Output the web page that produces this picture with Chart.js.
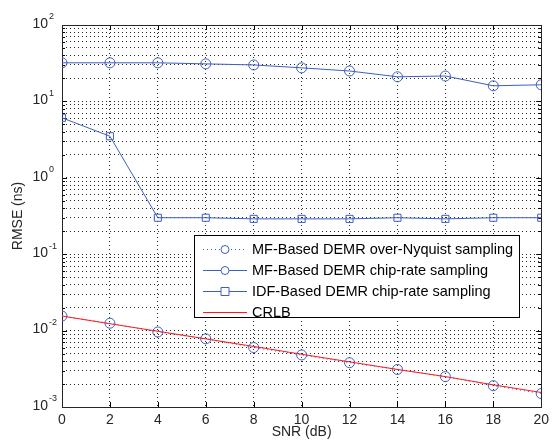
<!DOCTYPE html>
<html>
<head>
<meta charset="utf-8">
<script src="https://cdn.jsdelivr.net/npm/chart.js@4/dist/chart.umd.min.js"></script>
<style>
  html, body { margin: 0; padding: 0; background: #fff; }
  #wrap { width: 554px; height: 445px; position: relative; }
</style>
</head>
<body>
<div id="wrap"><canvas id="rmseChart"></canvas></div>
<script>
// Données
const snr = [0, 2, 4, 6, 8, 10, 12, 14, 16, 18, 20];
const mfOverNyquist = [0.0155, 0.0125, 0.0096, 0.0078, 0.0060, 0.0048, 0.0038, 0.0031, 0.0025, 0.0019, 0.0015];
const mfChipRate = [32, 32, 32, 31, 30, 27.5, 25, 21, 21.5, 16, 16.5];
const idfChipRate = [6.1, 3.5, 0.30, 0.30, 0.29, 0.29, 0.29, 0.30, 0.29, 0.30, 0.30];
const crlb = [0.0155, 0.0123, 0.0098, 0.0078, 0.0062, 0.0049, 0.0039, 0.0031, 0.0025, 0.00195, 0.00155];
const yExponents = [-3, -2, -1, 0, 1, 2];
const seriesNames = [
    'MF-Based DEMR over-Nyquist sampling',
    'MF-Based DEMR chip-rate sampling',
    'IDF-Based DEMR chip-rate sampling',
    'CRLB'
];

const blue = '#3f5fbf';
const red = '#ff1a1a';
const font = 'Liberation Sans, Arial, sans-serif';

const pts = arr => snr.map((x, i) => ({ x: x, y: arr[i] }));

// ticks 1..9 par décade pour la grille mineure
function logTicks() {
    const t = [];
    for (let e = yExponents[0]; e < yExponents[yExponents.length - 1]; e++) {
        for (let s = 1; s < 10; s++) t.push({ value: s * Math.pow(10, e) });
    }
    t.push({ value: Math.pow(10, yExponents[yExponents.length - 1]) });
    return t;
}

const matlabAxes = {
    id: 'matlabAxes',
    beforeDatasetsDraw(chart) {
        const { ctx, chartArea: a, scales: { x, y } } = chart;
        ctx.save();
        ctx.strokeStyle = '#000';
        ctx.lineWidth = 1;
        ctx.beginPath();
        // ticks vers l'intérieur
        y.ticks.forEach(t => {
            const py = Math.round(y.getPixelForValue(t.value)) + 0.5;
            const major = Math.abs(Math.log10(t.value) - Math.round(Math.log10(t.value))) < 1e-9;
            const len = major ? 5 : 3;
            ctx.moveTo(a.left, py); ctx.lineTo(a.left + len, py);
            ctx.moveTo(a.right, py); ctx.lineTo(a.right - len, py);
        });
        x.ticks.forEach(t => {
            const px = Math.round(x.getPixelForValue(t.value)) + 0.5;
            ctx.moveTo(px, a.bottom); ctx.lineTo(px, a.bottom - 5);
            ctx.moveTo(px, a.top); ctx.lineTo(px, a.top + 5);
        });
        ctx.stroke();
        ctx.strokeStyle = '#262626';
        ctx.strokeRect(Math.round(a.left) + 0.5, Math.round(a.top) + 0.5,
            Math.round(a.right - a.left), Math.round(a.bottom - a.top));
        // étiquettes 10^n
        ctx.fillStyle = '#262626';
        ctx.textBaseline = 'middle';
        yExponents.forEach(e => {
            const py = y.getPixelForValue(Math.pow(10, e));
            ctx.font = '14px ' + font;
            ctx.textAlign = 'right';
            ctx.fillText('10', 48, py - 1);
            ctx.font = '9px ' + font;
            ctx.textAlign = 'left';
            ctx.fillText(String(e), 49, py - 8);
        });
        ctx.restore();
    },
    afterDraw(chart) {
        const { ctx } = chart;
        const box = { left: 194, top: 235, right: 519, bottom: 317 };
        ctx.save();
        ctx.fillStyle = '#fff';
        ctx.fillRect(box.left, box.top, box.right - box.left, box.bottom - box.top);
        ctx.strokeStyle = '#000';
        ctx.lineWidth = 1;
        ctx.strokeRect(box.left + 0.5, box.top + 0.5, box.right - box.left, box.bottom - box.top);
        const rows = [249, 270, 291, 312];
        chart.data.datasets.forEach(ds => {
            const i = seriesNames.indexOf(ds.label);
            const ry = rows[i] + 0.5;
            ctx.strokeStyle = ds.borderColor;
            ctx.lineWidth = 1;
            ctx.setLineDash(ds.borderDash || []);
            ctx.beginPath();
            ctx.moveTo(203, ry); ctx.lineTo(247, ry);
            ctx.stroke();
            ctx.setLineDash([]);
            if (ds.pointRadius > 0) {
                ctx.beginPath();
                if (ds.pointStyle === 'rect') {
                    ctx.rect(225 - 4, ry - 4, 8, 8);
                } else {
                    ctx.arc(225, ry, 4, 0, Math.PI * 2);
                }
                ctx.fillStyle = '#fff';
                ctx.fill();
                ctx.stroke();
            }
            ctx.fillStyle = '#000';
            ctx.font = '14.5px ' + font;
            ctx.textAlign = 'left';
            ctx.textBaseline = 'middle';
            ctx.fillText(ds.label, 252, ry);
        });
        ctx.restore();
    }
};

const ctx = document.getElementById('rmseChart').getContext('2d');
new Chart(ctx, {
    type: 'line',
    data: {
        datasets: [
            {
                label: seriesNames[3],
                data: pts(crlb),
                borderColor: red,
                borderWidth: 1,
                pointRadius: 0,
                order: 0
            },
            {
                label: seriesNames[0],
                data: pts(mfOverNyquist),
                borderColor: blue,
                borderWidth: 1,
                borderDash: [1, 3],
                pointStyle: 'circle',
                pointRadius: 5,
                pointBackgroundColor: 'rgba(0,0,0,0)',
                pointBorderColor: blue,
                order: 1
            },
            {
                label: seriesNames[1],
                data: pts(mfChipRate),
                borderColor: blue,
                borderWidth: 1,
                pointStyle: 'circle',
                pointRadius: 5,
                pointBackgroundColor: 'rgba(0,0,0,0)',
                pointBorderColor: blue,
                order: 1
            },
            {
                label: seriesNames[2],
                data: pts(idfChipRate),
                borderColor: blue,
                borderWidth: 1,
                pointStyle: 'rect',
                pointRadius: 5,
                pointBackgroundColor: 'rgba(0,0,0,0)',
                pointBorderColor: blue,
                order: 1
            }
        ]
    },
    options: {
        responsive: true,
        maintainAspectRatio: false,
        animation: false,
        layout: {
            padding: { top: 25, right: 9, left: 0, bottom: 0 }
        },
        plugins: {
            legend: { display: false },
            tooltip: { enabled: false }
        },
        scales: {
            x: {
                type: 'linear',
                min: 0,
                max: 20,
                afterFit: s => { s.height = 38; },
                ticks: {
                    stepSize: 2,
                    padding: 5,
                    color: '#262626',
                    font: { family: font, size: 14 }
                },
                grid: {
                    color: 'rgba(0,0,0,0.85)',
                    borderDash: [1, 3],
                    drawTicks: false
                },
                border: { display: false, dash: [1, 3] },
                title: {
                    display: true,
                    text: 'SNR (dB)',
                    color: '#262626',
                    font: { family: font, size: 14 },
                    padding: { top: 0, bottom: 4 }
                }
            },
            y: {
                type: 'logarithmic',
                min: 0.001,
                max: 100,
                afterFit: s => { s.width = 62; },
                afterBuildTicks: s => { s.ticks = logTicks(); },
                ticks: {
                    autoSkip: false,
                    callback: () => ''
                },
                grid: {
                    color: 'rgba(0,0,0,0.85)',
                    borderDash: [1, 3],
                    drawTicks: false
                },
                border: { display: false, dash: [1, 3] },
                title: {
                    display: true,
                    text: 'RMSE (ns)',
                    color: '#262626',
                    font: { family: font, size: 14 },
                    padding: { top: 10, bottom: 0 }
                }
            }
        }
    },
    plugins: [matlabAxes]
});
</script>
</body>
</html>
